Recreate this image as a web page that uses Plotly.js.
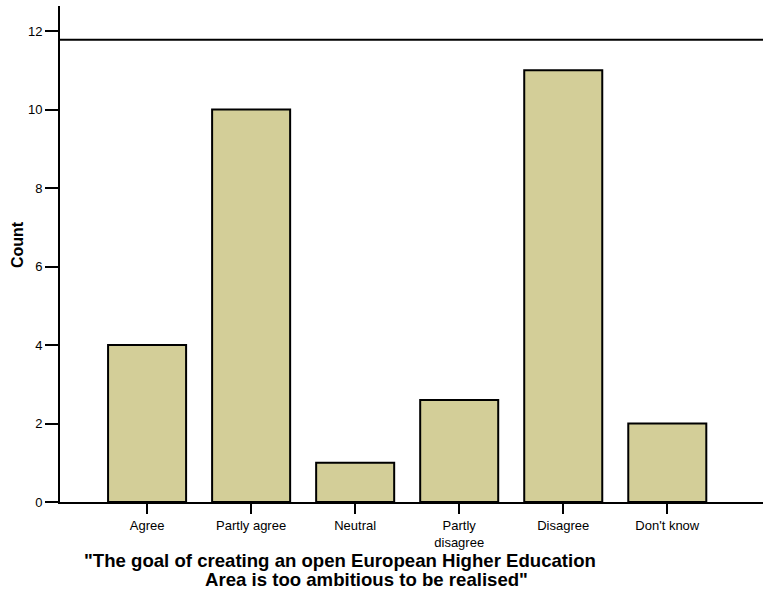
<!DOCTYPE html>
<html>
<head>
<meta charset="utf-8">
<script src="https://cdn.plot.ly/plotly-3.0.1.min.js"></script>
<style>html,body{margin:0;padding:0;background:#fff;}#chart{width:763px;height:593px;}</style>
</head>
<body>
<div id="chart"></div>
<script>
const categories = ["Agree", "Partly agree", "Neutral", "Partly<br>disagree", "Disagree", "Don't know"];
const counts = [4, 10, 1, 2.6, 11, 2];
const referenceLine = [11.78];
const yTicks = [0, 2, 4, 6, 8, 10, 12];
const xTitleLines = ["\"The goal of creating an open European Higher Education", "Area is too ambitious to be realised\""];
const yTitle = "Count";

const trace = {
  type: "bar",
  x: categories,
  y: counts,
  marker: {color: "#d3ce98", line: {color: "#000", width: 2}},
  width: 0.75,
  hoverinfo: "x+y"
};

const layout = {
  width: 763, height: 593,
  margin: {l: 60, r: 0, t: 6, b: 91},
  paper_bgcolor: "#fff", plot_bgcolor: "#fff",
  showlegend: false,
  font: {family: "Liberation Sans, Arial, sans-serif", color: "#000"},
  xaxis: {
    range: [-0.837, 5.92],
    showline: true, linecolor: "#000", linewidth: 2,
    ticks: "outside", ticklen: 10, tickwidth: 2, tickcolor: "#000",
    tickfont: {size: 13},
    showgrid: false, zeroline: false, fixedrange: true
  },
  yaxis: {
    range: [0, 12.64],
    tickvals: yTicks,
    showline: true, linecolor: "#000", linewidth: 2,
    ticks: "outside", ticklen: 13, tickwidth: 2, tickcolor: "#000",
    tickfont: {size: 13},
    showgrid: false, zeroline: false, fixedrange: true
  },
  shapes: referenceLine.map(v => ({
    type: "line", xref: "paper", yref: "y",
    x0: 0, x1: 1, y0: v, y1: v,
    line: {color: "#000", width: 2}
  })),
  annotations: [
    {
      xref: "paper", yref: "paper",
      x: (340 - 60) / 703, y: (502 - 560) / 496, xanchor: "center", yanchor: "middle",
      text: "<b>" + xTitleLines[0] + "</b>", showarrow: false,
      font: {size: 18.6}
    },
    {
      xref: "paper", yref: "paper",
      x: (366.5 - 60) / 703, y: (502 - 579) / 496, xanchor: "center", yanchor: "middle",
      text: "<b>" + xTitleLines[1] + "</b>", showarrow: false,
      font: {size: 18.6}
    },
    {
      xref: "paper", yref: "paper",
      x: (18 - 60) / 703, y: (502 - 245) / 496, xanchor: "center", yanchor: "middle",
      text: "<b>" + yTitle + "</b>", showarrow: false, textangle: -90,
      font: {size: 16}
    }
  ]
};

Plotly.newPlot("chart", [trace], layout, {displayModeBar: false, staticPlot: true});
</script>
</body>
</html>
